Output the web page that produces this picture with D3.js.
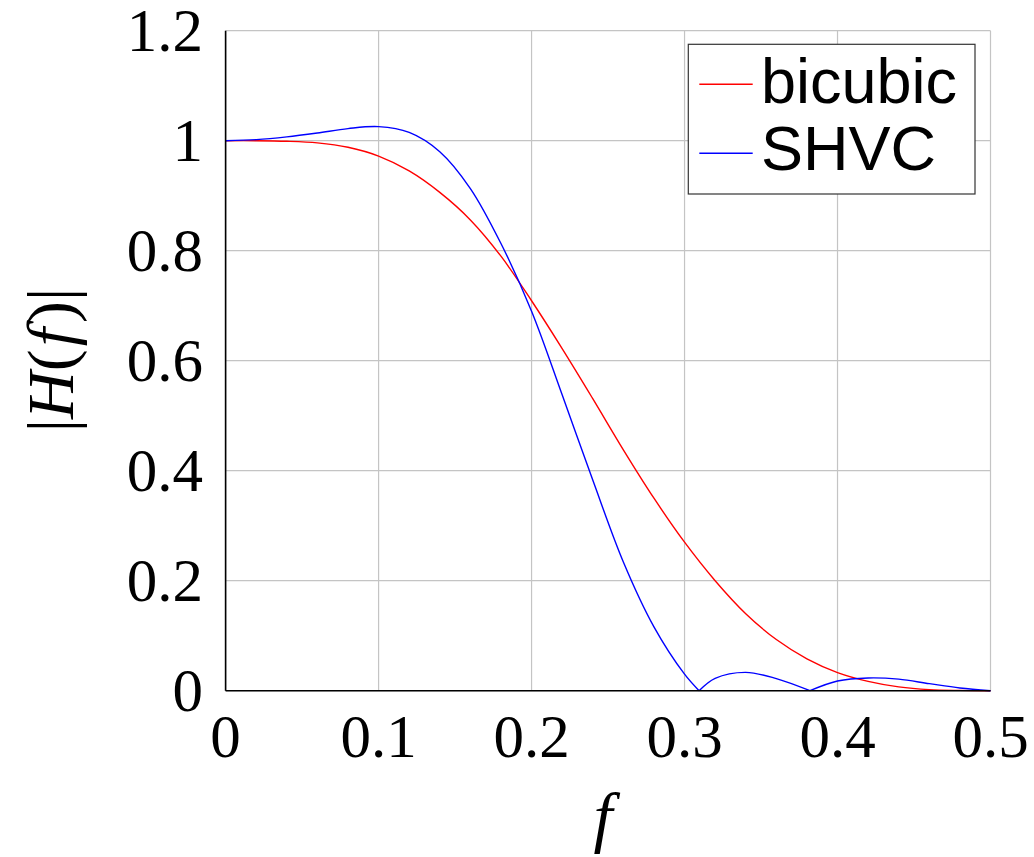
<!DOCTYPE html>
<html>
<head>
<meta charset="utf-8">
<script src="https://cdn.jsdelivr.net/npm/d3@7"></script>
<style>
  html, body { margin: 0; padding: 0; background: #fff; }
  svg { display: block; }
</style>
</head>
<body>
<svg id="chart" width="1034" height="857"></svg>
<script>
// ---- data ----
const freqGrid = [0, 0.02, 0.04, 0.06, 0.08, 0.10, 0.12, 0.14, 0.16, 0.18, 0.20, 0.22, 0.24,
                  0.26, 0.28, 0.30, 0.32, 0.34, 0.36, 0.38, 0.40, 0.42, 0.44, 0.46, 0.48, 0.50];
const bicubicH = [1.000, 1.000, 0.999, 0.996, 0.988, 0.972, 0.945, 0.906, 0.856, 0.790, 0.709, 0.622, 0.531,
                  0.438, 0.350, 0.270, 0.200, 0.140, 0.093, 0.058, 0.033, 0.017, 0.007, 0.002, 0.0005, 0];

const shvcF = [0, 0.02, 0.04, 0.06, 0.08, 0.10, 0.12, 0.14, 0.16, 0.18, 0.20, 0.22, 0.24, 0.26, 0.28, 0.30,
               0.3095, 0.32, 0.34, 0.36, 0.382, 0.40, 0.42, 0.44, 0.46, 0.48, 0.50];
const shvcH = [1.000, 1.002, 1.007, 1.014, 1.022, 1.0255, 1.015, 0.980, 0.913, 0.813, 0.690, 0.538, 0.383, 0.234, 0.116, 0.030,
               0, 0.0225, 0.0334, 0.022, 0, 0.0176, 0.0232, 0.021, 0.0128, 0.0050, 0];

const xTicks = [0, 0.1, 0.2, 0.3, 0.4, 0.5];
const xTickLabels = ["0", "0.1", "0.2", "0.3", "0.4", "0.5"];
const yTicks = [0, 0.2, 0.4, 0.6, 0.8, 1.0, 1.2];
const yTickLabels = ["0", "0.2", "0.4", "0.6", "0.8", "1", "1.2"];
const seriesNames = ["bicubic", "SHVC"];
const seriesColors = ["#ff0000", "#0000ff"];

// ---- layout ----
const svg = d3.select("#chart");
const plotL = 225.6, plotR = 990.5, plotT = 30.7, plotB = 690.7;
const x = d3.scaleLinear().domain([0, 0.5]).range([plotL, plotR]);
const y = d3.scaleLinear().domain([0, 1.2]).range([plotB, plotT]);

const serif = "'Liberation Serif', 'Times New Roman', serif";
const sans = "'Liberation Sans', Arial, Helvetica, sans-serif";

// grid
const grid = svg.append("g");
grid.selectAll("line.v").data(xTicks).join("line").attr("class", "v")
  .attr("x1", d => x(d)).attr("x2", d => x(d))
  .attr("y1", plotT).attr("y2", plotB)
  .attr("stroke", "#c4c4c4").attr("stroke-width", 1.2);
grid.selectAll("line.h").data(yTicks).join("line").attr("class", "h")
  .attr("x1", plotL).attr("x2", plotR)
  .attr("y1", d => y(d)).attr("y2", d => y(d))
  .attr("stroke", "#c4c4c4").attr("stroke-width", 1.2);

// curves
const line = d3.line().x(d => x(d[0])).y(d => y(d[1])).curve(d3.curveCatmullRom.alpha(0.5));
const bicubicData = freqGrid.map((f, i) => [f, bicubicH[i]]);
svg.append("path").datum(bicubicData)
  .attr("d", line).attr("fill", "none")
  .attr("stroke", seriesColors[0]).attr("stroke-width", 1.4);

// split SHVC into lobes at interior zeros (|H| has sharp cusps there)
const shvcData = shvcF.map((f, i) => [f, shvcH[i]]);
const lobes = [];
let cur = [];
shvcData.forEach((p, i) => {
  cur.push(p);
  if (p[1] === 0 && i > 0 && i < shvcData.length - 1) { lobes.push(cur); cur = [p]; }
});
lobes.push(cur);
svg.append("g").selectAll("path").data(lobes).join("path")
  .attr("d", line).attr("fill", "none")
  .attr("stroke", seriesColors[1]).attr("stroke-width", 1.4);

// axes (left + bottom only)
svg.append("line").attr("x1", plotL).attr("x2", plotL).attr("y1", plotT).attr("y2", plotB)
  .attr("stroke", "#000").attr("stroke-width", 1.6);
svg.append("line").attr("x1", plotL).attr("x2", plotR).attr("y1", plotB).attr("y2", plotB)
  .attr("stroke", "#000").attr("stroke-width", 1.6);

// tick labels
svg.append("g").selectAll("text").data(yTicks).join("text")
  .attr("x", 203).attr("y", d => y(d))
  .attr("dy", "0.34em")
  .attr("text-anchor", "end")
  .attr("font-family", serif).attr("font-size", 61)
  .text((d, i) => yTickLabels[i]);
svg.append("g").selectAll("text").data(xTicks).join("text")
  .attr("x", d => x(d)).attr("y", 757)
  .attr("text-anchor", "middle")
  .attr("font-family", serif).attr("font-size", 61)
  .text((d, i) => xTickLabels[i]);

// axis labels
svg.append("text").attr("x", 603).attr("y", 840)
  .attr("text-anchor", "middle")
  .attr("font-family", serif).attr("font-size", 68).attr("font-style", "italic")
  .text("f");

const yl = svg.append("text")
  .attr("transform", "translate(73,360) rotate(-90)")
  .attr("text-anchor", "middle")
  .attr("font-family", serif).attr("font-size", 66);
yl.append("tspan").text("|");
yl.append("tspan").attr("font-style", "italic").text("H");
yl.append("tspan").text("(");
yl.append("tspan").attr("font-style", "italic").attr("dx", 3).text("f");
yl.append("tspan").attr("dx", 5).text(")|");

// legend
const lg = svg.append("g");
lg.append("rect").attr("x", 688.3).attr("y", 44.3).attr("width", 286.7).attr("height", 149.7)
  .attr("fill", "#fff").attr("stroke", "#333").attr("stroke-width", 1.2);
const legendY = [84.3, 153.3];
const legendBaseline = [102.7, 170];
seriesNames.forEach((name, i) => {
  lg.append("line").attr("x1", 699.3).attr("x2", 752.7)
    .attr("y1", legendY[i]).attr("y2", legendY[i])
    .attr("stroke", seriesColors[i]).attr("stroke-width", 1.4);
  lg.append("text").attr("x", 761).attr("y", legendBaseline[i])
    .attr("font-family", sans).attr("font-size", 63)
    .text(name);
});
</script>
</body>
</html>
